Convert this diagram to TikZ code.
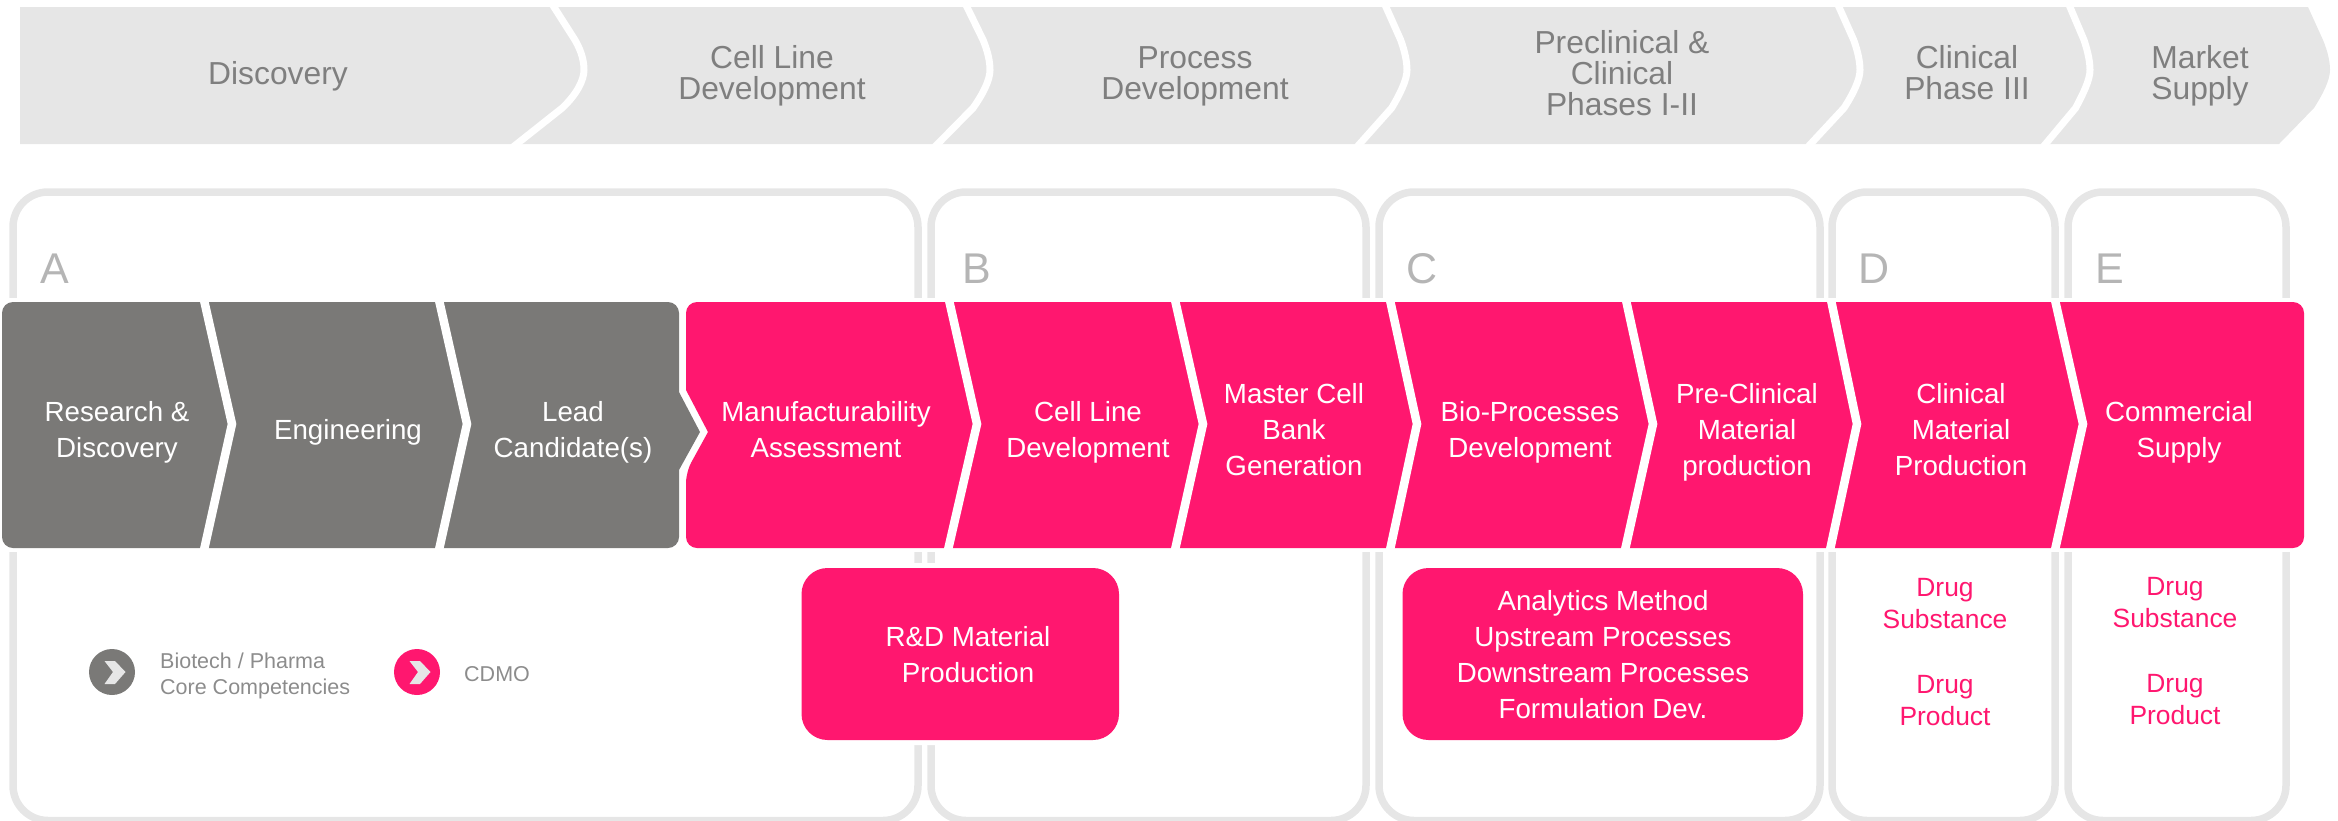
\documentclass[tikz,border=0pt]{standalone}
\usepackage{fontspec}
\setmainfont{Liberation Sans}

\definecolor{stagegray}{HTML}{E6E6E6}
\definecolor{stagetextgray}{HTML}{7F7F7F}
\definecolor{lettergray}{HTML}{B5B5B5}
\definecolor{legendgray}{HTML}{8C8C8C}
\definecolor{bandgray}{HTML}{7A7977}
\definecolor{bandpink}{HTML}{FF176F}

\tikzset{
    x=1pt, y=-1pt,
    stagetext/.style={align=center, inner sep=0, text=stagetextgray, font=\fontsize{31.8}{31}\selectfont},
    steptext/.style={align=center, inner sep=0, text=white, font=\fontsize{27.7}{36}\selectfont},
    tagtext/.style={align=center, inner sep=0, text=bandpink, font=\fontsize{26.4}{32}\selectfont},
    legendtext/.style={align=left, anchor=west, inner sep=0, text=legendgray, font=\fontsize{21.5}{26}\selectfont},
    letter/.style={anchor=base west, inner sep=0, text=lettergray, font=\fontsize{43}{43}\selectfont},
    panelbox/.style={draw=stagegray, line width=7.5pt, rounded corners=35pt},
    sepline/.style={draw=white, line width=8.5pt, miter limit=10},
    sepcurve/.style={draw=white, line width=7pt},
    pinkbox/.style={fill=bandpink, rounded corners=26pt, preaction={draw=white, line width=10pt}},
    legendmark/.style={circle, minimum size=46pt, inner sep=0}
}

\newcommand{\stagesep}[3]{
    \draw[sepcurve] ({#1-.15*(#2-#1)},0) -- ({#1+.7*(#2-#1)},40)
        .. controls ({#2-2},52) and (#2,62) .. (#2,70)
        .. controls (#2,80) and ({#2-7},94) .. ({#3+.68*(#2-#3)},108)
        -- ({#3-.1*(#2-#3)},150);
}

\begin{document}
\begin{tikzpicture}
    \useasboundingbox (0,0) rectangle (2338,820);

    % top stages
    \fill[stagegray] (20,7) -- (2308,7) -- (2323,40)
        .. controls (2328,52) and (2330,62) .. (2330,70)
        .. controls (2330,80) and (2323,94) .. (2314,108)
        -- (2279,144) -- (20,144) -- cycle;
    \stagesep{554}{584}{516}
    \stagesep{967}{990}{937}
    \stagesep{1386}{1407}{1359}
    \stagesep{1839}{1860}{1810}
    \stagesep{2070}{2090}{2045}

    \node[stagetext] (discovery) at (278, 76) {Discovery};
    \node[stagetext] (cellline) at (772, 76) {Cell Line\\Development};
    \node[stagetext] (process) at (1195, 76) {Process\\Development};
    \node[stagetext] (preclinical) at (1622, 73) {Preclinical \&\\Clinical\\Phases I-II};
    \node[stagetext] (phase3) at (1967, 73) {Clinical\\Phase III};
    \node[stagetext] (market) at (2200, 76) {Market\\Supply};

    % panels
    \draw[panelbox] (13,192) rectangle (918,820.5);
    \draw[panelbox] (931,192) rectangle (1366,820.5);
    \draw[panelbox] (1379,192) rectangle (1820,820.5);
    \draw[panelbox] (1832,192) rectangle (2055,820.5);
    \draw[panelbox] (2068,192) rectangle (2286,820.5);

    \node[letter] (lettera) at (40, 283) {A};
    \node[letter] (letterb) at (962, 283) {B};
    \node[letter] (letterc) at (1406, 283) {C};
    \node[letter] (letterd) at (1858, 283) {D};
    \node[letter] (lettere) at (2095, 283) {E};

    % band
    \fill[white] (0,298) rectangle (2338,552);
    \fill[bandgray, rounded corners=11pt] (2,302) -- (679,302) [sharp corners] -- (679,392) -- (700,432)
        -- (679,470) [rounded corners=11pt] -- (679,548) -- (2,548) -- cycle;
    \fill[bandpink, rounded corners=11pt] (686,472) [sharp corners] -- (708,432) -- (686,390)
        [rounded corners=11pt] -- (686,302) -- (2304,302) -- (2304,548) -- (686,548) -- cycle;

    \draw[sepline] (204,300) -- (232,424) -- (204,550);
    \draw[sepline] (439,300) -- (467,424) -- (439,550);
    \draw[sepline] (949,300) -- (977,424) -- (948,550);
    \draw[sepline] (1175,300) -- (1203,424) -- (1175,550);
    \draw[sepline] (1390,300) -- (1417,424) -- (1390,550);
    \draw[sepline] (1626,300) -- (1653,424) -- (1625,550);
    \draw[sepline] (1831,300) -- (1857,424) -- (1830,550);
    \draw[sepline] (2055,300) -- (2083,424) -- (2055,550);

    \node[steptext] (research) at (117, 432) {Research \&\\Discovery};
    \node[steptext] (engineering) at (348, 432) {Engineering};
    \node[steptext] (lead) at (573, 432) {Lead\\Candidate(s)};
    \node[steptext] (manufact) at (826, 429.5) {Manufacturability\\Assessment};
    \node[steptext] (celldev) at (1088, 432) {Cell Line\\Development};
    \node[steptext] (master) at (1294, 429.5) {Master Cell\\Bank\\Generation};
    \node[steptext] (bio) at (1530, 432) {Bio-Processes\\Development};
    \node[steptext] (preclin) at (1747, 432) {Pre-Clinical\\Material\\production};
    \node[steptext] (clinmat) at (1961, 429.5) {Clinical\\Material\\Production};
    \node[steptext] (commercial) at (2179, 432) {Commercial\\Supply};

    % boxes below the band
    \path[pinkbox] (801.5,568) rectangle (1119,740);
    \path[pinkbox] (1402.5,568) rectangle (1803,740);
    \node[steptext] (rdmaterial) at (968, 655) {R\&D Material\\Production};
    \node[steptext] (analytics) at (1603, 655) {Analytics Method\\Upstream Processes\\Downstream Processes\\Formulation Dev.};

    \node[tagtext] (substanced) at (1945, 604) {Drug\\Substance};
    \node[tagtext] (productd) at (1945, 701) {Drug\\Product};
    \node[tagtext] (substancee) at (2175, 603) {Drug\\Substance};
    \node[tagtext] (producte) at (2175, 700) {Drug\\Product};

    % legend
    \node[legendmark, fill=bandgray] (markgray) at (112, 672) {};
    \node[legendmark, fill=bandpink] (markpink) at (417, 672) {};
    \fill[stagegray] (104.5,661) -- (115,661) -- (125.5,672) -- (115,684) -- (104.5,684) -- (113,672) -- cycle;
    \fill[stagegray] (409.5,661) -- (420,661) -- (430.5,672) -- (420,684) -- (409.5,684) -- (418,672) -- cycle;
    \node[legendtext] (biotech) at (160, 675.5) {Biotech / Pharma\\Core Competencies};
    \node[legendtext] (cdmo) at (464, 674) {CDMO};
\end{tikzpicture}
\end{document}
